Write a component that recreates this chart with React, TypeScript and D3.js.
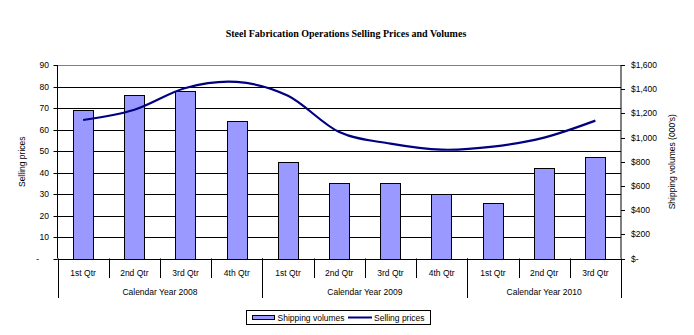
import React from "react";
import * as d3 from "d3";

const quarters = ["1st Qtr", "2nd Qtr", "3rd Qtr", "4th Qtr", "1st Qtr", "2nd Qtr", "3rd Qtr", "4th Qtr", "1st Qtr", "2nd Qtr", "3rd Qtr"];
const years = ["Calendar Year 2008", "Calendar Year 2009", "Calendar Year 2010"];
const yearSpans = [4, 4, 3];
const shippingVolumes = [69, 76, 78, 64, 45, 35, 35, 30, 26, 42, 47];
const sellingPrices = [1145, 1230, 1410, 1460, 1345, 1045, 950, 900, 925, 1000, 1140];
const leftTicks = [0, 10, 20, 30, 40, 50, 60, 70, 80, 90];
const rightTicks = [0, 200, 400, 600, 800, 1000, 1200, 1400, 1600];

const W = 694, H = 335;
const L = 57.5, R = 621, T = 65, B = 258.5;
const FONT = "'Liberation Sans', Arial, sans-serif";
const FS = 8.5;

export default function App() {
  const idx = quarters.map((_, i) => i);
  const x = d3.scaleBand<number>().domain(idx).range([L, R]).padding(0);
  const yL = d3.scaleLinear().domain([0, 90]).range([B, T]);
  const yR = d3.scaleLinear().domain([0, 1600]).range([B, T]);
  const bw = x.bandwidth();
  const barW = bw * 0.4;
  const line = d3
    .line<number>()
    .x((_, i) => (x(i) as number) + bw / 2)
    .y((d) => yR(d))
    .curve(d3.curveCardinal.tension(0));

  const fmtR = (v: number) => (v === 0 ? "$-" : "$" + d3.format(",")(v));

  let acc = 0;
  const yearBounds = yearSpans.map((s) => {
    const start = acc;
    acc += s;
    return [start, acc];
  });
  const xEdge = (i: number) => (i >= quarters.length ? R : (x(i) as number));

  return (
    <svg width={W} height={H} style={{ position: "absolute", left: 0, top: 0, background: "#fff" }}>
      <rect x={0} y={0} width={W} height={H} fill="#fff" />
      <text x={346} y={37} textAnchor="middle" fontFamily="'Liberation Serif', 'Times New Roman', serif" fontWeight="bold" fontSize={10}>
        Steel Fabrication Operations Selling Prices and Volumes
      </text>
      {/* gridlines */}
      {leftTicks.slice(1).map((t) => (
        <line key={t} x1={L} x2={R} y1={Math.round(yL(t)) + 0.5} y2={Math.round(yL(t)) + 0.5} stroke={t === 90 ? "#808080" : "#000"} strokeWidth={1} />
      ))}
      {/* bars */}
      {shippingVolumes.map((v, i) => (
        <rect
          key={i}
          x={Math.round((x(i) as number) + bw / 2 - barW / 2) + 0.5}
          y={Math.round(yL(v)) + 0.5}
          width={Math.round(barW)}
          height={Math.round(B) - Math.round(yL(v))}
          fill="#9999FF"
          stroke="#000"
          strokeWidth={1}
        />
      ))}
      {/* line */}
      <path d={line(sellingPrices) || ""} fill="none" stroke="#000080" strokeWidth={2.2} />
      {/* left axis */}
      <line x1={L} x2={L} y1={T} y2={B} stroke="#000" />
      {leftTicks.map((t) => (
        <g key={t}>
          <line x1={L - 4} x2={L} y1={Math.round(yL(t)) + 0.5} y2={Math.round(yL(t)) + 0.5} stroke="#000" />
          <text x={t === 0 ? 39 : 49} y={yL(t) + 3} textAnchor="end" fontFamily={FONT} fontSize={FS}>
            {t === 0 ? "-" : t}
          </text>
        </g>
      ))}
      <text transform={`translate(24.5,${(T + B) / 2}) rotate(-90)`} textAnchor="middle" fontFamily={FONT} fontSize={FS}>
        Selling prices
      </text>
      {/* right axis */}
      <line x1={R} x2={R} y1={T} y2={B} stroke="#000" />
      {rightTicks.map((t) => (
        <g key={t}>
          <line x1={R} x2={R + 4} y1={Math.round(yR(t)) + 0.5} y2={Math.round(yR(t)) + 0.5} stroke="#000" />
          <text x={631} y={yR(t) + 3} textAnchor="start" fontFamily={FONT} fontSize={FS}>
            {fmtR(t)}
          </text>
        </g>
      ))}
      <text transform={`translate(675,${(T + B) / 2}) rotate(-90)`} textAnchor="middle" fontFamily={FONT} fontSize={FS}>
        Shipping volumes (000's)
      </text>
      {/* category axis */}
      <line x1={L} x2={R} y1={Math.round(B) + 0.5} y2={Math.round(B) + 0.5} stroke="#000" />
      {idx.map((i) => (
        <g key={i}>
          {i > 0 && <line x1={Math.round(x(i) as number) + 0.5} x2={Math.round(x(i) as number) + 0.5} y1={B} y2={278} stroke="#000" />}
          <text x={(x(i) as number) + bw / 2} y={276} textAnchor="middle" fontFamily={FONT} fontSize={FS}>
            {quarters[i]}
          </text>
        </g>
      ))}
      {yearBounds.map(([s, e], k) => (
        <g key={k}>
          <line x1={Math.round(xEdge(s)) + 0.5} x2={Math.round(xEdge(s)) + 0.5} y1={B} y2={298} stroke="#000" />
          {k === yearBounds.length - 1 && (
            <line x1={Math.round(xEdge(e)) + 0.5} x2={Math.round(xEdge(e)) + 0.5} y1={B} y2={298} stroke="#000" />
          )}
          <text x={(xEdge(s) + xEdge(e)) / 2} y={295} textAnchor="middle" fontFamily={FONT} fontSize={FS}>
            {years[k]}
          </text>
        </g>
      ))}
      {/* legend */}
      <rect x={246.5} y={310.5} width={184} height={14} fill="#fff" stroke="#000" />
      <rect x={252.5} y={315.5} width={22} height={4} fill="#9999FF" stroke="#000" />
      <text x={277.5} y={321} fontFamily={FONT} fontSize={FS}>Shipping volumes</text>
      <line x1={348} x2={372} y1={317.5} y2={317.5} stroke="#000080" strokeWidth={2} />
      <text x={374} y={321} fontFamily={FONT} fontSize={FS}>Selling prices</text>
    </svg>
  );
}
